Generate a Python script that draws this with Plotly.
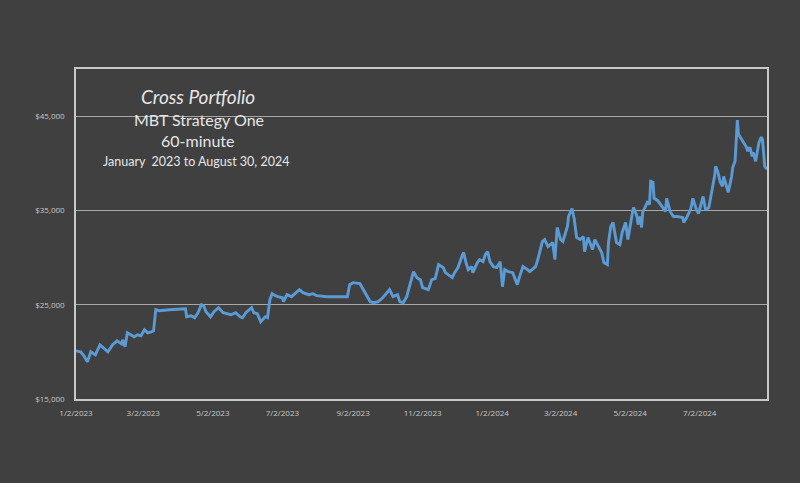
import plotly.graph_objects as go

dates = [
    "2023-01-02","2023-01-06","2023-01-09","2023-01-12","2023-01-15","2023-01-19","2023-01-23","2023-01-26","2023-01-30",
    "2023-02-03","2023-02-07","2023-02-11","2023-02-12","2023-02-14","2023-02-16","2023-02-19","2023-02-22","2023-02-25","2023-02-28",
    "2023-03-03","2023-03-06","2023-03-09","2023-03-11","2023-03-13","2023-03-16","2023-03-25",
    "2023-04-08","2023-04-09","2023-04-13","2023-04-16","2023-04-19","2023-04-22","2023-04-24","2023-04-26","2023-04-30",
    "2023-05-03","2023-05-07","2023-05-11","2023-05-14","2023-05-18","2023-05-22","2023-05-26","2023-05-28","2023-05-31",
    "2023-06-05","2023-06-07","2023-06-10","2023-06-13","2023-06-17","2023-06-19","2023-06-21","2023-06-23","2023-06-26","2023-06-28",
    "2023-07-02","2023-07-03","2023-07-06","2023-07-10","2023-07-15","2023-07-17","2023-07-20","2023-07-25","2023-07-29",
    "2023-08-01","2023-08-10","2023-08-19","2023-08-28","2023-08-30",
    "2023-09-02","2023-09-08","2023-09-11","2023-09-14","2023-09-17","2023-09-20","2023-09-24","2023-09-28",
    "2023-10-02","2023-10-04","2023-10-07","2023-10-11","2023-10-13","2023-10-16","2023-10-19","2023-10-22","2023-10-25","2023-10-28","2023-10-31",
    "2023-11-02","2023-11-07","2023-11-10","2023-11-13","2023-11-16","2023-11-20","2023-11-22","2023-11-24","2023-11-28","2023-11-30",
    "2023-12-03","2023-12-07","2023-12-08","2023-12-10","2023-12-12","2023-12-15","2023-12-16","2023-12-20","2023-12-22","2023-12-25","2023-12-27","2023-12-29","2023-12-31",
    "2024-01-03","2024-01-06","2024-01-09","2024-01-11","2024-01-13","2024-01-16","2024-01-20","2024-01-24","2024-01-26","2024-01-29",
    "2024-02-02","2024-02-04","2024-02-09","2024-02-11","2024-02-15","2024-02-17","2024-02-20","2024-02-24","2024-02-26","2024-02-28",
    "2024-03-02","2024-03-04","2024-03-08","2024-03-09","2024-03-12","2024-03-14","2024-03-16","2024-03-19","2024-03-22","2024-03-23","2024-03-26","2024-03-30",
    "2024-04-01","2024-04-04","2024-04-07","2024-04-09","2024-04-12","2024-04-13","2024-04-15","2024-04-17","2024-04-20","2024-04-23","2024-04-25","2024-04-28","2024-04-30",
    "2024-05-04","2024-05-05","2024-05-08","2024-05-09","2024-05-11","2024-05-12","2024-05-13","2024-05-15","2024-05-17","2024-05-19","2024-05-20","2024-05-22","2024-05-23","2024-05-26","2024-05-30",
    "2024-06-02","2024-06-03","2024-06-06","2024-06-09","2024-06-12","2024-06-17","2024-06-18","2024-06-21","2024-06-24","2024-06-25","2024-06-26","2024-06-29",
    "2024-07-01","2024-07-02","2024-07-05","2024-07-07","2024-07-08","2024-07-10","2024-07-13","2024-07-15","2024-07-16","2024-07-18","2024-07-20","2024-07-22","2024-07-23","2024-07-26","2024-07-27","2024-07-30","2024-07-31",
    "2024-08-02","2024-08-04","2024-08-05","2024-08-09","2024-08-12","2024-08-13","2024-08-15","2024-08-17","2024-08-18","2024-08-20","2024-08-21","2024-08-23","2024-08-25","2024-08-26","2024-08-28","2024-08-30",
]

equity = [
    20110,20000,19570,18940,20000,19680,20740,20430,20000,
    20740,21170,20850,21280,20530,22020,21810,21600,21810,21700,
    22340,22020,22130,22230,24470,24360,24470,
    24570,23720,23830,23620,24150,25000,24890,24260,23720,
    24260,24680,24150,24040,23940,24150,23720,23620,24150,
    24680,24150,24040,23190,23720,23620,25530,26170,25960,25850,
    25740,25320,26060,25850,26380,26600,26280,26060,26170,
    25960,25850,25850,25850,27130,
    27340,27230,26600,25850,25320,25210,25320,25740,
    26380,26600,25850,26060,25320,25210,25850,27340,28510,27870,27660,
    26810,26600,27660,27770,29260,28940,28400,28190,27870,28400,
    28940,30320,30530,29470,28720,29040,28400,29470,29790,29570,30320,30640,29570,
    29040,28940,29570,26910,28720,28510,28400,27130,27980,29040,
    28720,28510,29040,29790,31700,31910,31170,31600,29790,33190,
    31910,31700,33300,34360,35210,34040,32130,31910,32230,30640,32130,30850,
    31910,31170,30530,29470,29260,31600,33300,33720,31600,31380,32660,33720,31910,
    34790,35320,34360,33510,34360,33190,34790,35320,35850,35640,38080,37980,36280,36060,35430,
    34890,36280,34890,34360,34360,34260,33720,34360,35110,35640,36280,35110,
    34680,35110,36490,35110,35110,35320,37230,38620,39680,39040,37980,37550,38620,37450,36910,38620,39570,
    40210,44570,43080,42230,41700,41280,41700,40740,41170,40210,40960,42230,42770,42550,39680,39360,
]

x_tick_vals = ["2023-01-02","2023-03-02","2023-05-02","2023-07-02","2023-09-02","2023-11-02",
               "2024-01-02","2024-03-02","2024-05-02","2024-07-02"]
x_tick_text = ["1/2/2023","3/2/2023","5/2/2023","7/2/2023","9/2/2023","11/2/2023",
               "1/2/2024","3/2/2024","5/2/2024","7/2/2024"]
y_tick_vals = [15000, 25000, 35000, 45000]
y_tick_text = ["$15,000", "$25,000", "$35,000", "$45,000"]

title_lines = [
    ("Cross Portfolio", 19, True, 0.176, 0.918),
    ("MBT Strategy One", 16, False, 0.178, 0.848),
    ("60-minute", 16, False, 0.176, 0.782),
    ("January  2023 to August 30, 2024", 12.5, False, 0.174, 0.721),
]

BG = "#404040"
fig = go.Figure()
fig.add_trace(go.Scatter(
    x=dates, y=equity, mode="lines",
    line=dict(color="#5b9bd5", width=2.9),
    hoverinfo="skip", showlegend=False,
))

for text, size, italic, xp, yp in title_lines:
    fig.add_annotation(
        x=xp, y=yp, xref="paper", yref="paper", xanchor="center", yanchor="middle",
        text=text, showarrow=False,
        font=dict(family="Lato, Open Sans, sans-serif", size=size, color="#e6e6e6",
                  style="italic" if italic else "normal"),
    )

fig.update_layout(
    width=800, height=483,
    margin=dict(l=76, r=33, t=69, b=84),
    paper_bgcolor=BG, plot_bgcolor=BG,
    xaxis=dict(
        type="date", range=["2023-01-02", "2024-08-30"],
        tickvals=x_tick_vals, ticktext=x_tick_text,
        showgrid=False, zeroline=False,
        showline=True, mirror=True, linecolor="#c8c8c8", linewidth=1.5,
        ticks="", tickfont=dict(family="Open Sans, sans-serif", size=8, color="#c8c8c8"),
        ticklabelstandoff=6,
    ),
    yaxis=dict(
        range=[15000, 50000],
        tickvals=y_tick_vals, ticktext=y_tick_text,
        showgrid=True, gridcolor="#a8a8a8", gridwidth=1,
        zeroline=False,
        showline=True, mirror=True, linecolor="#c8c8c8", linewidth=1.5,
        ticks="", tickfont=dict(family="Open Sans, sans-serif", size=8, color="#c8c8c8"),
        ticklabelstandoff=8,
    ),
)

fig.write_html("out.html")
